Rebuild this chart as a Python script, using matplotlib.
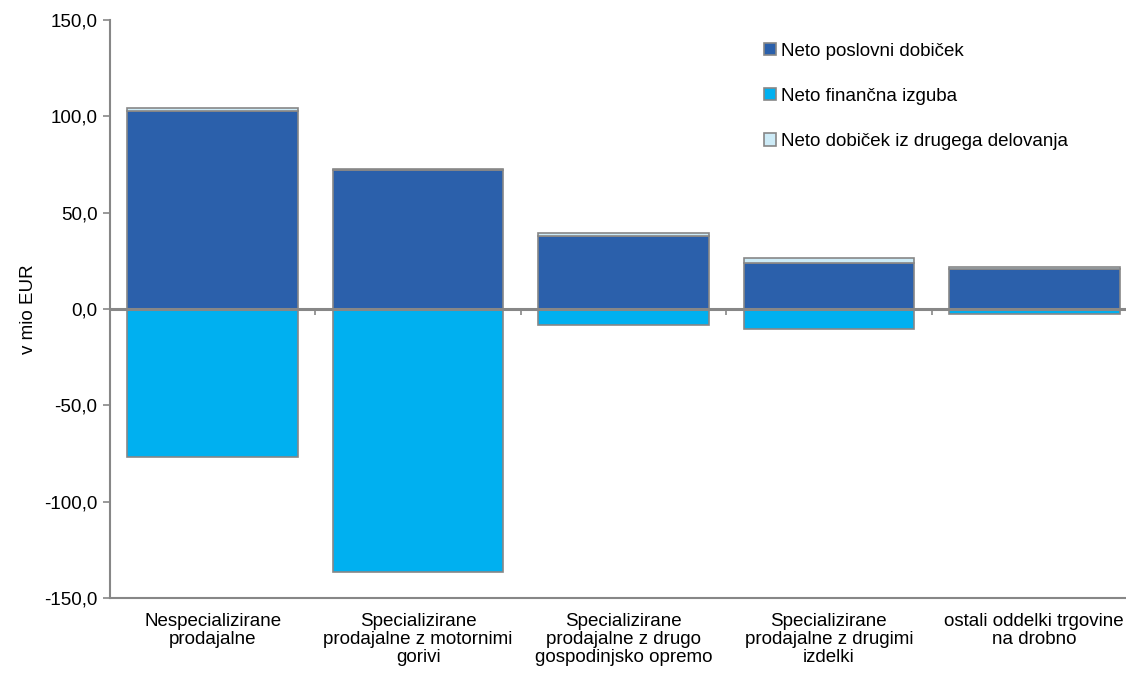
import numpy as np
import matplotlib
matplotlib.use("Agg")
from matplotlib import pyplot as plt
from matplotlib.ticker import FuncFormatter

plt.rcParams['font.family'] = ['Liberation Sans', 'DejaVu Sans']

categories = ['Nespecializirane\nprodajalne',
              'Specializirane\nprodajalne z motornimi\ngorivi',
              'Specializirane\nprodajalne z drugo\ngospodinjsko opremo',
              'Specializirane\nprodajalne z drugimi\nizdelki',
              'ostali oddelki trgovine\nna drobno']
poslovni = [102.6, 72.0, 37.9, 23.7, 21.0]      # Neto poslovni dobiček
financna = [-76.8, -136.5, -8.3, -10.2, -2.6]   # Neto finančna izguba
drugo = [1.8, 0.6, 1.6, 2.6, 0.8]               # Neto dobiček iz drugega delovanja

c_dark = '#2B60AB'
c_cyan = '#00B0F0'
c_light = '#CDEBF7'
grey = '#878787'
fs = 13.5

fig = plt.figure(figsize=(11.26, 6.75), dpi=100)
ax = fig.add_axes([110/1126, 77/675, 1027/1126, 578/675])

x = np.arange(len(categories))
w = 0.83
ax.bar(x, poslovni, w, color=c_dark, edgecolor=grey, linewidth=1.2, label='Neto poslovni dobiček', zorder=2)
ax.bar(x, financna, w, color=c_cyan, edgecolor=grey, linewidth=1.2, label='Neto finančna izguba', zorder=2)
ax.bar(x, drugo, w, bottom=poslovni, color=c_light, edgecolor=grey, linewidth=1.2,
       label='Neto dobiček iz drugega delovanja', zorder=2)

ax.axhline(0, color=grey, linewidth=2.2, zorder=3)
ax.vlines(x[:-1] + 0.5, -3, 0, color=grey, linewidth=1.2, zorder=3)

ax.set_xlim(-0.5, len(categories) - 0.5)
ax.set_ylim(-150, 150)
ax.set_yticks(np.arange(-150, 151, 50))
ax.yaxis.set_major_formatter(FuncFormatter(lambda v, p: ('%.1f' % v).replace('.', ',')))
ax.set_xticks(x)
ax.set_xticklabels(categories, fontsize=fs, linespacing=1.05)
ax.tick_params(axis='x', length=0, pad=11)
ax.tick_params(axis='y', length=5, color=grey, width=1.2, labelsize=fs, pad=4, direction='out')

for s in ['top', 'right']:
    ax.spines[s].set_visible(False)
for s in ['left', 'bottom']:
    ax.spines[s].set_color(grey)
    ax.spines[s].set_linewidth(1.5)

ax.set_ylabel('v mio EUR', fontsize=fs, labelpad=5)

leg = ax.legend(loc='upper left', bbox_to_anchor=(0.62, 0.99), frameon=False, fontsize=fs,
                handlelength=0.65, handleheight=0.65, handletextpad=0.3, labelspacing=1.5)
for h in leg.legend_handles:
    h.set_edgecolor(grey)

fig.savefig('out.png', dpi=100)
